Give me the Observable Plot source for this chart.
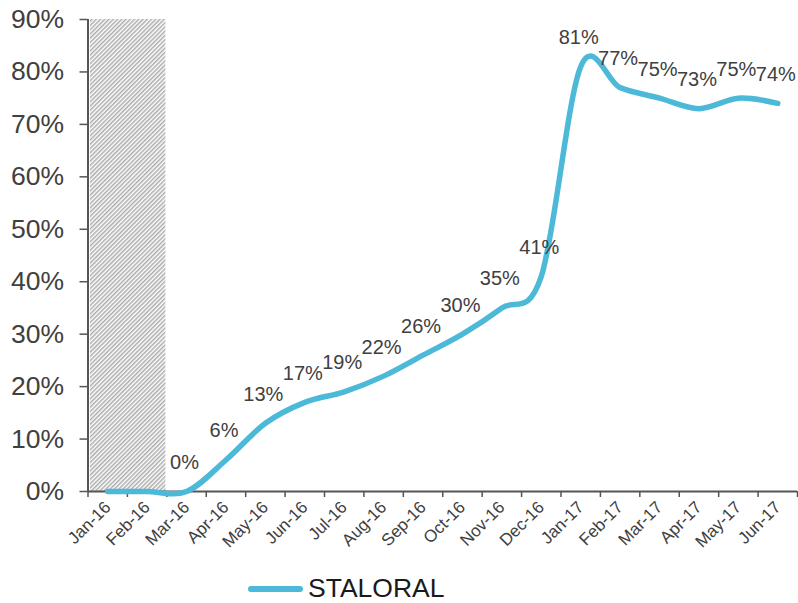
<!DOCTYPE html>
<html>
<head>
<meta charset="utf-8">
<script src="https://cdn.jsdelivr.net/npm/d3@7"></script>
<script src="https://cdn.jsdelivr.net/npm/@observablehq/plot@0.6"></script>
<style>
  html, body { margin: 0; padding: 0; background: #fff; }
  #wrap { position: relative; width: 798px; height: 603px; overflow: hidden; font-family: "Liberation Sans", Arial, sans-serif; }
  #legend { position: absolute; left: 248px; top: 574px; height: 29px; display: flex; align-items: center; }
  #legend .sw { width: 55px; height: 6px; border-radius: 3px; background: #4bb9d7; }
  #legend .lb { margin-left: 5px; font-size: 26.5px; color: #1a1a1a; line-height: 29px; height: 29px; }
</style>
</head>
<body>
<div id="wrap">
  <div id="chart"></div>
  <div id="legend"><div class="sw"></div><div class="lb">STALORAL</div></div>
</div>
<script>
const months = ["Jan-16","Feb-16","Mar-16","Apr-16","May-16","Jun-16","Jul-16","Aug-16","Sep-16","Oct-16","Nov-16","Dec-16","Jan-17","Feb-17","Mar-17","Apr-17","May-17","Jun-17"];
const values = [0,0,0,6,13,17,19,22,26,30,35,41,81,77,75,73,75,74];
const firstLabelled = "Mar-16";
const hatchedMonths = ["Jan-16","Feb-16"];
const yTicks = [0,10,20,30,40,50,60,70,80,90];
const seriesName = "STALORAL";
const lineColor = "#4bb9d7";

const data = months.map((m, i) => ({month: m, i, value: values[i]}));
const labelStart = months.indexOf(firstLabelled);
const labelled = data.filter(d => d.i >= labelStart);
const hatch = [{x1: months.indexOf(hatchedMonths[0]), x2: months.indexOf(hatchedMonths[hatchedMonths.length-1]) + 1}];

const chart = Plot.plot({
  width: 798,
  height: 565,
  marginLeft: 87.5,
  marginRight: 1,
  marginTop: 19,
  marginBottom: 74,
  style: {fontFamily: "'Liberation Sans', Arial, sans-serif", background: "#fff"},
  x: {type: "linear", domain: [0, months.length], label: null},
  y: {domain: [0, 90], label: null},
  marks: [
    Plot.rect(hatch, {x1: "x1", x2: "x2", y1: 0, y2: 90, fill: "url(#hatch)", insetLeft: 2.5, insetRight: 1}),
    Plot.axisY({ticks: yTicks, tickFormat: d => d + "%", tickSize: 8, tickPadding: 16, fontSize: 26.5, stroke: "#555", strokeWidth: 1.5, color: "#404040", label: null}),
    Plot.axisX({ticks: d3.range(0, months.length + 1), tickFormat: () => "", tickSize: 6, stroke: "#555", strokeWidth: 1.5, label: null}),
    Plot.axisX({ticks: d3.range(months.length).map(i => i + 0.5), tickFormat: (d) => months[Math.floor(d)], tickSize: 0, tickPadding: 13, tickRotate: -45, fontSize: 17, color: "#404040", label: null}),
    Plot.ruleX([0], {stroke: "#555", strokeWidth: 2}),
    Plot.ruleY([0], {stroke: "#555", strokeWidth: 2}),
    Plot.line(data, {x: d => d.i + 0.5, y: "value", curve: "cardinal", stroke: lineColor, strokeWidth: 5.5, strokeLinecap: "round", strokeLinejoin: "round"}),
    Plot.text(labelled, {x: d => d.i + 0.5, y: "value", text: d => d.value + "%", dy: -29, dx: -2, fontSize: 20, fill: "#404040"})
  ]
});

const ns = "http://www.w3.org/2000/svg";
const defs = document.createElementNS(ns, "defs");
defs.innerHTML = `<pattern id="hatch" patternUnits="userSpaceOnUse" width="3" height="3" patternTransform="rotate(45)">
  <rect width="3" height="3" fill="#fff"/><line x1="0.75" y1="0" x2="0.75" y2="3" stroke="#ababab" stroke-width="1.5"/></pattern>`;
chart.insertBefore(defs, chart.firstChild);
document.getElementById("chart").appendChild(chart);
</script>
</body>
</html>
